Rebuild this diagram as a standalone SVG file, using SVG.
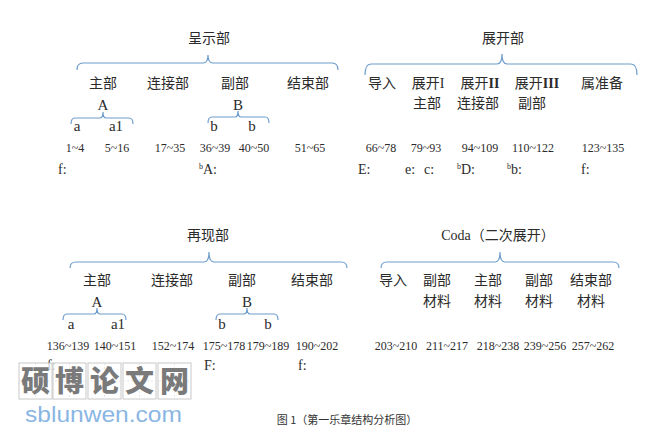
<svg xmlns="http://www.w3.org/2000/svg" width="653" height="432" viewBox="0 0 653 432">
<style>
.cj{font-family:"Liberation Serif","Noto Sans CJK SC",serif;font-size:14px;fill:#2b2b2b;text-anchor:middle}
.lt{font-family:"Liberation Serif","Noto Sans CJK SC",serif;font-size:15px;fill:#2b2b2b;text-anchor:middle}
.nm{font-family:"Liberation Serif",serif;font-size:12px;fill:#2b2b2b;text-anchor:middle}
.ky{font-family:"Liberation Serif",serif;font-size:14px;fill:#2b2b2b}
.sup{font-size:8px}
.br{fill:none;stroke:#6d9ccc;stroke-width:1.2}
.cap{font-family:"Noto Sans CJK SC",serif;font-size:11px;fill:#333;text-anchor:middle}
.box{fill:#fff;fill-opacity:0.75;stroke:#c8c8c8;stroke-width:1}
.gl{stroke:#dedede;stroke-width:0.8;stroke-dasharray:2 2}
.wm{font-family:"Noto Sans CJK SC",sans-serif;font-weight:900;font-size:29px;fill:#7a7a7a;text-anchor:middle}
</style>
<rect width="653" height="432" fill="#fff"/>

<g id="connectors">
<path class="br" d="M77,70 Q77,63 83,63 H203 Q208,63 208,55 Q208,63 213,63 H332 Q338,63 338,70"/>
<path class="br" d="M71,124 Q71,118 75,118 H100 Q103,118 103,112 Q103,118 106,118 H129 Q133,118 133,124"/>
<path class="br" d="M208,123 Q208,117 212,117 H235 Q238,117 238,111 Q238,117 241,117 H265 Q269,117 269,123"/>
<path class="br" d="M365,75 Q365,64 371,64 H497 Q502,64 502,54 Q502,64 507,64 H631 Q637,64 637,75"/>
<path class="br" d="M70,268 Q70,262 76,262 H204 Q209,262 209,252 Q209,262 214,262 H341 Q347,262 347,268"/>
<path class="br" d="M63,320 Q63,314 67,314 H94 Q97,314 97,308 Q97,314 100,314 H122 Q126,314 126,320"/>
<path class="br" d="M216,320 Q216,314 220,314 H244 Q247,314 247,308 Q247,314 250,314 H274 Q278,314 278,320"/>
<path class="br" d="M381,268 Q381,262 387,262 H495 Q500,262 500,252 Q500,262 505,262 H613 Q619,262 619,268"/>
</g>

<g id="exposition">
<text class="cj" x="209" y="43">呈示部</text>
<text class="cj" x="103" y="88">主部</text>
<text class="cj" x="168" y="88">连接部</text>
<text class="cj" x="235" y="88">副部</text>
<text class="cj" x="308" y="88">结束部</text>
<text class="lt" x="103" y="110">A</text>
<text class="lt" x="238" y="110">B</text>
<text class="lt" x="77" y="131">a</text>
<text class="lt" x="116" y="131">a1</text>
<text class="lt" x="214" y="131">b</text>
<text class="lt" x="252" y="131">b</text>
<text class="nm" x="75" y="152">1~4</text>
<text class="nm" x="117" y="152">5~16</text>
<text class="nm" x="170" y="152">17~35</text>
<text class="nm" x="215" y="152">36~39</text>
<text class="nm" x="254" y="152">40~50</text>
<text class="nm" x="310" y="152">51~65</text>
<text class="ky" x="58" y="174">f:</text>
<text class="ky" x="199" y="174"><tspan class="sup" dy="-5">b</tspan><tspan dy="5">A:</tspan></text>
</g>

<g id="development">
<text class="cj" x="503" y="43">展开部</text>
<text class="cj" x="382" y="88">导入</text>
<text class="cj" x="428" y="88">展开I</text>
<text class="cj" x="480" y="88">展开<tspan font-weight="bold">II</tspan></text>
<text class="cj" x="537" y="88">展开<tspan font-weight="bold">III</tspan></text>
<text class="cj" x="602" y="88">属准备</text>
<text class="cj" x="427" y="108">主部</text>
<text class="cj" x="478" y="108">连接部</text>
<text class="cj" x="532" y="108">副部</text>
<text class="nm" x="381" y="152">66~78</text>
<text class="nm" x="426" y="152">79~93</text>
<text class="nm" x="480" y="152">94~109</text>
<text class="nm" x="533" y="152">110~122</text>
<text class="nm" x="603" y="152">123~135</text>
<text class="ky" x="358" y="174">E:</text>
<text class="ky" x="405" y="174">e:</text>
<text class="ky" x="424" y="174">c:</text>
<text class="ky" x="457" y="174"><tspan class="sup" dy="-5">b</tspan><tspan dy="5">D:</tspan></text>
<text class="ky" x="507" y="174"><tspan class="sup" dy="-5">b</tspan><tspan dy="5">b:</tspan></text>
<text class="ky" x="581" y="174">f:</text>
</g>

<g id="recapitulation">
<text class="cj" x="208" y="240">再现部</text>
<text class="cj" x="97" y="285">主部</text>
<text class="cj" x="172" y="285">连接部</text>
<text class="cj" x="242" y="285">副部</text>
<text class="cj" x="312" y="285">结束部</text>
<text class="lt" x="97" y="307">A</text>
<text class="lt" x="247" y="307">B</text>
<text class="lt" x="71" y="329">a</text>
<text class="lt" x="118" y="329">a1</text>
<text class="lt" x="222" y="329">b</text>
<text class="lt" x="268" y="329">b</text>
<text class="nm" x="68" y="350">136~139</text>
<text class="nm" x="115" y="350">140~151</text>
<text class="nm" x="173" y="350">152~174</text>
<text class="nm" x="224" y="350">175~178</text>
<text class="nm" x="268" y="350">179~189</text>
<text class="nm" x="317" y="350">190~202</text>
<text class="ky" x="47" y="370">f:</text>
<text class="ky" x="204" y="370">F:</text>
<text class="ky" x="298" y="370">f:</text>
</g>

<g id="coda">
<text class="cj" x="498" y="240">Coda（二次展开）</text>
<text class="cj" x="393" y="285">导入</text>
<text class="cj" x="437" y="285">副部</text>
<text class="cj" x="488" y="285">主部</text>
<text class="cj" x="539" y="285">副部</text>
<text class="cj" x="591" y="285">结束部</text>
<text class="cj" x="437" y="306">材料</text>
<text class="cj" x="488" y="306">材料</text>
<text class="cj" x="539" y="306">材料</text>
<text class="cj" x="591" y="306">材料</text>
<text class="nm" x="396" y="350">203~210</text>
<text class="nm" x="447" y="350">211~217</text>
<text class="nm" x="498" y="350">218~238</text>
<text class="nm" x="545" y="350">239~256</text>
<text class="nm" x="593" y="350">257~262</text>
</g>

<g id="watermark">
<rect class="box" x="19" y="363" width="33" height="36"/>
<rect class="box" x="53" y="363" width="33" height="36"/>
<rect class="box" x="88" y="363" width="33" height="36"/>
<rect class="box" x="123" y="363" width="33" height="36"/>
<rect class="box" x="158" y="363" width="33" height="36"/>
<path class="gl" d="M35.5,363V399M69.5,363V399M104.5,363V399M139.5,363V399M174.5,363V399M19,381H191"/>
<text class="wm" x="35.5" y="392">硕</text>
<text class="wm" x="69.5" y="392">博</text>
<text class="wm" x="104.5" y="392">论</text>
<text class="wm" x="139.5" y="392">文</text>
<text class="wm" x="174.5" y="392">网</text>
<text x="25" y="422" font-family="Liberation Sans,sans-serif" font-size="22" fill="#8ab6e3" textLength="157" lengthAdjust="spacingAndGlyphs">sblunwen.com</text>
</g>

<text class="cap" x="347" y="424">图 1（第一乐章结构分析图）</text>
</svg>
